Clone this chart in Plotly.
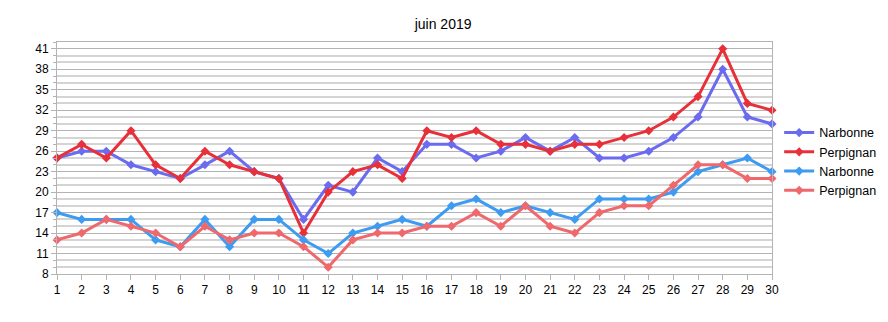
import plotly.graph_objects as go

days = list(range(1, 31))
narbonne_max = [25,26,26,24,23,22,24,26,23,22,16,21,20,25,23,27,27,25,26,28,26,28,25,25,26,28,31,38,31,30]
perpignan_max = [25,27,25,29,24,22,26,24,23,22,14,20,23,24,22,29,28,29,27,27,26,27,27,28,29,31,34,41,33,32]
narbonne_min = [17,16,16,16,13,12,16,12,16,16,13,11,14,15,16,15,18,19,17,18,17,16,19,19,19,20,23,24,25,23]
perpignan_min = [13,14,16,15,14,12,15,13,14,14,12,9,13,14,14,15,15,17,15,18,15,14,17,18,18,21,24,24,22,22]

series = [
    ("Narbonne", narbonne_max, "#6b6bf0"),
    ("Perpignan", perpignan_max, "#e8303a"),
    ("Narbonne", narbonne_min, "#3d9bf2"),
    ("Perpignan", perpignan_min, "#ef686c"),
]

fig = go.Figure()
for name, vals, col in series:
    fig.add_trace(go.Scatter(
        x=days, y=vals, name=name, mode="lines+markers",
        line=dict(color=col, width=3),
        marker=dict(symbol="diamond", size=7, color=col),
        cliponaxis=False,
    ))

fig.update_layout(
    width=888, height=322,
    margin=dict(l=57, r=116, t=42, b=48, autoexpand=False),
    paper_bgcolor="white", plot_bgcolor="white",
    font=dict(family="Liberation Sans, Arial, sans-serif", size=12, color="black"),
    title=dict(text="juin 2019", x=0.499, xanchor="center", y=0.925, yanchor="middle",
               font=dict(size=14, color="black")),
    showlegend=True,
    legend=dict(x=1.01, xanchor="left", y=0.485, yanchor="middle",
                font=dict(size=12.5), tracegroupgap=0, itemwidth=30,
                bgcolor="rgba(0,0,0,0)"),
    xaxis=dict(
        range=[1, 30], tickmode="linear", tick0=1, dtick=1,
        showgrid=False, zeroline=False,
        showline=True, linecolor="#b3b3b3", linewidth=1, mirror=True,
        ticks="outside", ticklen=5, tickcolor="#b3b3b3",
        tickfont=dict(size=12),
    ),
    yaxis=dict(
        range=[8, 42], tickmode="linear", tick0=8, dtick=3,
        showgrid=True, gridcolor="#b3b3b3", gridwidth=1,
        zeroline=False,
        showline=True, linecolor="#b3b3b3", linewidth=1, mirror=True,
        ticks="outside", ticklen=5, tickcolor="#b3b3b3",
        tickfont=dict(size=12),
        minor=dict(dtick=1, tick0=8, showgrid=True, gridcolor="#d4d4d4", gridwidth=2,
                   ticks="outside", ticklen=3, tickcolor="#b3b3b3"),
    ),
)

fig.write_html("out.html")
